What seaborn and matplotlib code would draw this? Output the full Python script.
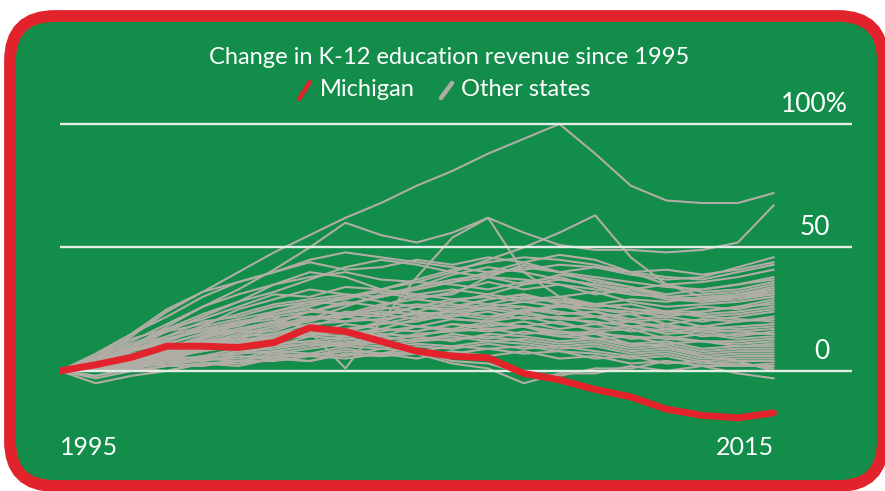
import numpy as np
import pandas as pd
import matplotlib
matplotlib.use('Agg')
import matplotlib.pyplot as plt
from matplotlib.patches import FancyBboxPatch
from matplotlib.lines import Line2D
from matplotlib.transforms import Affine2D, blended_transform_factory
import seaborn as sns

# data: % change in K-12 education revenue since 1995
years = list(range(1995, 2016))

michigan = [0, 2.5, 5.5, 10, 10, 9.5, 11.5, 17.5, 16, 12, 8, 6, 5.3,
            -1, -3.6, -7.5, -10.5, -15.5, -18, -19, -17]

other_states = [
    [0, 5, 14, 24, 32, 40, 48, 55, 62, 68, 75, 81, 88, 94, 100, 88, 75, 69, 68, 68, 72],
    [0, 4, 10, 18, 26, 33, 41, 50, 60, 55, 52, 56, 62, 56, 51, 49, 49, 48, 49, 52, 67],
    [0, 3, 8, 13, 17, 20, 22, 16, 1, 20, 38, 54, 62, 40, 30, 27, 25, 24, 24, 26, 29],
    [0, 2, 6, 11, 15, 19, 23, 26, 30, 33, 36, 40, 45, 50, 56, 63, 46, 35, 30, 30, 33],
    [0, 6, 15, 25, 32, 36, 40, 45, 48, 46, 44, 42, 40, 44, 47, 45, 40, 35, 32, 33, 36],
    [0, 3, 9, 16, 22, 28, 35, 40, 38, 33, 30, 31, 38, 43, 40, 36, 34, 30, 28, 29, 31],
    [0, 7, 15, 22, 30, 36, 40, 44, 41, 42, 45, 43, 46, 44, 40, 42, 39, 37, 38, 42, 46],
    [0, 2, 6, 10, 13, 17, 20, 24, 27, 30, 33, 36, 40, 41, 43, 42, 40, 41, 39, 41, 44],
    [0, 5, 12, 19, 26, 31, 35, 38, 40, 37, 36, 35, 33, 36, 38, 34, 31, 30, 29, 31, 33],
    [0, 3, 8, 12, 18, 25, 29, 33, 31, 30, 34, 39, 42, 40, 37, 35, 33, 35, 36, 38, 41],
    [0, 1, 4, 7, 10, 13, 17, 21, 26, 31, 34, 37, 39, 42, 40, 38, 36, 34, 33, 35, 38],
    [0, 4, 10, 14, 20, 22, 26, 28, 27, 30, 33, 36, 38, 35, 39, 37, 34, 31, 33, 35, 37],
    [0, 6, 13, 17, 21, 26, 31, 30, 34, 33, 31, 29, 30, 28, 26, 27, 25, 24, 22, 21, 20],
    [0, 2, 5, 9, 14, 16, 19, 24, 23, 27, 29, 32, 36, 33, 35, 31, 33, 30, 31, 32, 35],
    [0, 3, 6, 11, 15, 20, 22, 24, 28, 26, 31, 33, 31, 35, 37, 35, 32, 29, 28, 30, 32],
    [0, 4, 9, 12, 17, 18, 23, 25, 23, 25, 27, 26, 29, 31, 28, 27, 29, 28, 30, 31, 34],
    [0, 1, 3, 8, 12, 14, 18, 22, 22, 26, 24, 28, 31, 29, 30, 32, 28, 26, 27, 28, 30],
    [0, 5, 8, 14, 18, 21, 24, 28, 30, 32, 29, 27, 25, 26, 24, 22, 20, 18, 17, 16, 15],
    [0, 2, 6, 9, 11, 15, 18, 20, 24, 23, 26, 29, 27, 30, 28, 26, 27, 24, 26, 25, 28],
    [0, 3, 5, 10, 12, 16, 16, 21, 23, 22, 26, 25, 29, 31, 27, 25, 24, 22, 24, 26, 27],
    [0, 0, 2, 5, 8, 10, 13, 14, 17, 19, 22, 24, 26, 28, 29, 27, 25, 23, 23, 24, 26],
    [0, 4, 9, 13, 16, 19, 21, 22, 20, 21, 23, 24, 22, 24, 26, 25, 23, 24, 22, 23, 25],
    [0, 1, 5, 7, 11, 14, 15, 19, 20, 23, 21, 25, 27, 26, 23, 24, 21, 22, 20, 22, 24],
    [0, 3, 7, 9, 14, 17, 20, 18, 22, 20, 24, 22, 26, 24, 27, 22, 23, 19, 21, 20, 22],
    [0, 2, 3, 6, 10, 12, 14, 17, 16, 19, 20, 23, 21, 25, 23, 24, 20, 21, 18, 20, 21],
    [0, 5, 11, 16, 19, 23, 27, 29, 31, 28, 26, 24, 25, 23, 21, 20, 18, 16, 17, 18, 19],
    [0, 0, 3, 5, 9, 11, 14, 15, 19, 17, 21, 22, 24, 21, 22, 19, 20, 17, 18, 17, 18],
    [0, 2, 4, 8, 9, 12, 15, 17, 16, 20, 18, 21, 20, 24, 21, 22, 18, 19, 16, 16, 17],
    [0, 1, 2, 4, 6, 9, 11, 12, 14, 16, 18, 17, 20, 22, 19, 17, 18, 15, 16, 14, 16],
    [0, 3, 6, 10, 11, 13, 13, 16, 15, 17, 16, 19, 18, 20, 17, 19, 16, 17, 14, 15, 15],
    [0, 1, 4, 6, 8, 11, 12, 15, 17, 14, 18, 16, 19, 18, 20, 16, 17, 13, 15, 13, 14],
    [0, 4, 8, 11, 15, 17, 19, 21, 22, 24, 23, 21, 20, 18, 16, 15, 14, 13, 12, 12, 13],
    [0, 2, 3, 7, 8, 11, 10, 14, 13, 15, 14, 17, 16, 18, 15, 16, 13, 14, 12, 11, 12],
    [0, 0, 2, 4, 6, 7, 10, 11, 13, 12, 15, 16, 17, 15, 16, 13, 14, 11, 12, 10, 11],
    [0, 3, 5, 6, 9, 9, 11, 12, 11, 14, 12, 15, 13, 16, 14, 13, 11, 12, 9, 10, 10],
    [0, 1, 3, 5, 5, 8, 9, 11, 10, 13, 14, 12, 15, 14, 12, 13, 10, 11, 8, 9, 9],
    [0, -2, 1, 3, 4, 7, 8, 10, 12, 11, 13, 14, 12, 13, 11, 12, 9, 10, 7, 8, 8],
    [0, 2, 3, 6, 5, 8, 7, 9, 11, 10, 12, 13, 14, 12, 10, 11, 8, 9, 6, 7, 7],
    [0, 0, 2, 3, 5, 5, 8, 7, 10, 9, 11, 10, 12, 11, 9, 10, 7, 8, 5, 6, 6],
    [0, -3, 0, 2, 3, 4, 6, 6, 8, 7, 10, 9, 11, 9, 10, 8, 6, 7, 4, 5, 5],
    [0, 2, 1, 4, 4, 6, 5, 7, 6, 9, 8, 10, 9, 10, 8, 7, 5, 6, 3, 4, 4],
    [0, -5, -2, 0, 3, 3, 5, 4, 7, 6, 8, 7, 9, 7, 8, 5, 6, 3, 4, 2, 3],
    [0, 1, 0, 2, 2, 4, 4, 6, 5, 7, 5, 8, 6, 8, 5, 6, 3, 4, 2, 2, 2],
    [0, 1, 3, 2, 5, 4, 7, 6, 9, 7, 8, 4, 3, -1, -2, 1, 1, 4, 2, 3, 1],
    [0, -2, 1, 0, 3, 2, 5, 4, 7, 6, 7, 3, 1, -5, -1, -1, 2, 0, 2, -1, -3],
    [0, 3, 5, 7, 9, 12, 13, 15, 14, 17, 16, 19, 17, 18, 14, 15, 11, 10, 6, 4, 0],
    [0, 4, 10, 17, 23, 28, 32, 37, 42, 45, 43, 40, 38, 37, 35, 33, 31, 30, 29, 30, 31],
    [0, 1, 4, 8, 13, 19, 24, 27, 29, 33, 37, 41, 44, 46, 45, 43, 40, 38, 37, 40, 43],
]

grid_levels = [0, 50, 100]
grid_labels = ['0', '50', '100%']

GREEN = '#128E4A'
RED = '#E3232B'
GRAY = '#B0ADA5'
GRID = '#E4ECE6'

rows = []
for i, vals in enumerate(other_states):
    for y, v in zip(years, vals):
        rows.append((i, y, v))
others = pd.DataFrame(rows, columns=['state', 'year', 'change'])
mich = pd.DataFrame({'year': years, 'change': michigan})

W, H = 885, 491
fig = plt.figure(figsize=(W / 100, H / 100), dpi=100, facecolor='white')
px = Affine2D().scale(1 / W, 1 / H) + fig.transFigure

# green board with red rounded border
board = FancyBboxPatch((10, 5), 873, 470, boxstyle='round,pad=0,rounding_size=45',
                       fc=GREEN, ec=RED, lw=8.5, transform=px, zorder=-5)
fig.add_artist(board)

ax = fig.add_axes([60 / W, (H - 445) / H, 792 / W, (445 - 99.3) / H])
ax.axis('off')

sns.lineplot(data=others, x='year', y='change', units='state', estimator=None,
             color=GRAY, linewidth=1.5, ax=ax, zorder=2, legend=False)
for lv in grid_levels:
    ax.axhline(lv, color=GRID, lw=1.7, zorder=3)
sns.lineplot(data=mich, x='year', y='change', color=RED, linewidth=5,
             solid_capstyle='round', ax=ax, zorder=4)
ax.set_xlim(1995, 2017.2)
ax.set_ylim(-30, 110)

tr = blended_transform_factory(ax.transAxes, ax.transData)
font = 'Lato'
for lv, lab in zip(grid_levels, grid_labels):
    xr = 0.995 if lab.endswith('%') else 0.972
    ax.text(xr, lv + 8, lab, transform=tr, ha='right', va='center',
            color='white', fontsize=19, family=font)

ax.text(years[0], -31, str(years[0]), ha='left', va='center', color='white',
        fontsize=18, family=font)
ax.text(years[-1], -31, str(years[-1]), ha='right', va='center', color='white',
        fontsize=18, family=font)

fig.text(449 / W, 1 - 58 / H, 'Change in K-12 education revenue since 1995',
         ha='center', va='center', color='white', fontsize=17, family=font)

# legend
fig.add_artist(Line2D([299, 310], [H - 99, H - 82], color=RED, lw=3.2,
                      solid_capstyle='round', transform=px))
fig.text(320 / W, 1 - 90 / H, 'Michigan', ha='left', va='center', color='white',
         fontsize=17, family=font)
fig.add_artist(Line2D([441, 452], [H - 98, H - 83], color=GRAY, lw=3.2,
                      solid_capstyle='round', transform=px))
fig.text(461 / W, 1 - 90 / H, 'Other states', ha='left', va='center', color='white',
         fontsize=17, family=font)

fig.savefig('out.png', dpi=100, facecolor='white')
